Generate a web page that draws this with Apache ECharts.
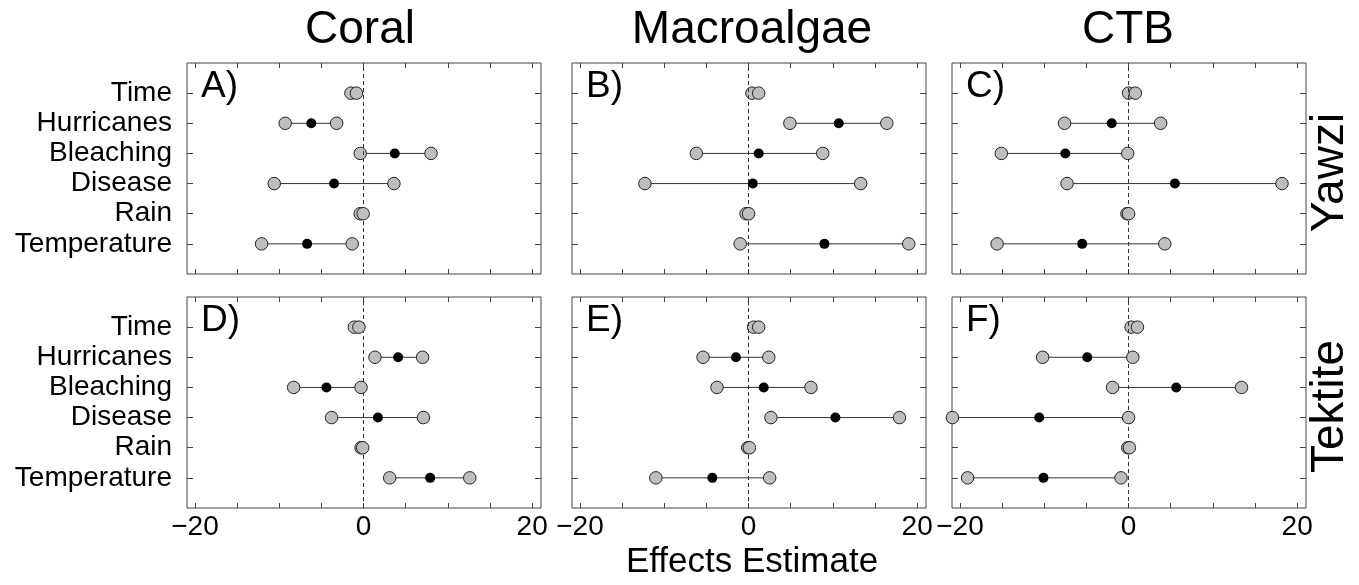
<!DOCTYPE html>
<html>
<head>
<meta charset="utf-8">
<script src="https://cdn.jsdelivr.net/npm/echarts@6/dist/echarts.min.js"></script>
<style>
html,body{margin:0;padding:0;background:#fff;}
#chart{width:1359px;height:585px;}
</style>
</head>
<body>
<div id="chart"></div>
<script>
// ---------- data ----------
const categories = ['Time', 'Hurricanes', 'Bleaching', 'Disease', 'Rain', 'Temperature'];
const columnTitles = ['Coral', 'Macroalgae', 'CTB'];
const rowTitles = ['Yawzi', 'Tektite'];
const panelLetters = ['A)', 'B)', 'C)', 'D)', 'E)', 'F)'];
const xTickValues = [-20, -15, -10, -5, 0, 5, 10, 15, 20];
const xLabelValues = [-20, 0, 20];
const xAxisTitle = 'Effects Estimate';

// A) Coral, Yawzi
const A_low  = [-1.5, -9.3, -0.4, -10.6, -0.4, -12.1];
const A_est  = [-1.2, -6.2, 3.7, -3.5, -0.2, -6.7];
const A_high = [-0.85, -3.2, 8.0, 3.6, -0.05, -1.35];
// B) Macroalgae, Yawzi
const B_low  = [0.4, 4.9, -6.2, -12.3, -0.3, -1.0];
const B_est  = [0.8, 10.7, 1.2, 0.5, -0.15, 9.0];
const B_high = [1.2, 16.4, 8.8, 13.3, 0.0, 19.0];
// C) CTB, Yawzi
const C_low  = [0.0, -7.6, -15.1, -7.3, -0.2, -15.6];
const C_est  = [0.4, -2.0, -7.5, 5.5, -0.1, -5.5];
const C_high = [0.8, 3.8, -0.1, 18.2, 0.0, 4.3];
// D) Coral, Tektite
const D_low  = [-1.1, 1.35, -8.3, -3.8, -0.3, 3.1];
const D_est  = [-0.8, 4.1, -4.4, 1.7, -0.2, 7.9];
const D_high = [-0.55, 7.0, -0.3, 7.1, -0.1, 12.6];
// E) Macroalgae, Tektite
const E_low  = [0.6, -5.4, -3.75, 2.65, -0.1, -11.0];
const E_est  = [0.9, -1.5, 1.8, 10.3, 0.0, -4.3];
const E_high = [1.2, 2.4, 7.4, 17.9, 0.1, 2.5];
// F) CTB, Tektite
const F_low  = [0.3, -10.2, -1.9, -20.9, -0.1, -19.1];
const F_est  = [0.7, -4.9, 5.65, -10.6, 0.0, -10.1];
const F_high = [1.05, 0.5, 13.4, 0.0, 0.1, -0.9];

const panels = [
  [A_low, A_est, A_high], [B_low, B_est, B_high], [C_low, C_est, C_high],
  [D_low, D_est, D_high], [E_low, E_est, E_high], [F_low, F_est, F_high]
];

// ---------- layout ----------
const FONT = '"Liberation Sans", Arial, Helvetica, sans-serif';
const XMIN = -20.95, XMAX = 21.05;
const YMIN = 0, YMAX = categories.length + 1;
const colLeft = [187, 572, 952];
const rowTop = [63, 297];
const PW = 354, PH = 211;
const titleX = [360, 752, 1128];

const yTickValues = categories.map((c, i) => categories.length - i);
const yOf = i => categories.length - i;
const fmtX = v => (v < 0 ? '\u2212' + Math.abs(v) : String(v));

const grids = [], xAxes = [], yAxes = [], series = [], graphics = [];

for (let r = 0; r < 2; r++) {
  for (let c = 0; c < 3; c++) {
    const idx = r * 3 + c;
    grids.push({
      left: colLeft[c], top: rowTop[r], width: PW, height: PH,
      show: true, borderColor: '#444', borderWidth: 1, backgroundColor: 'transparent'
    });
    const tickStyle = { color: '#444', width: 1 };
    ['bottom', 'top'].forEach(pos => {
      xAxes.push({
        gridIndex: idx, type: 'value', position: pos, min: XMIN, max: XMAX,
        axisLine: { show: false, onZero: false },
        splitLine: { show: false },
        axisTick: { show: true, inside: true, length: 5, customValues: xTickValues, lineStyle: tickStyle },
        axisLabel: {
          show: pos === 'bottom' && r === 1, customValues: xLabelValues, formatter: fmtX,
          fontSize: 28, fontFamily: FONT, color: '#000', margin: 5
        }
      });
    });
    ['left', 'right'].forEach(pos => {
      yAxes.push({
        gridIndex: idx, type: 'value', position: pos, min: YMIN, max: YMAX,
        axisLine: { show: false, onZero: false },
        splitLine: { show: false },
        axisTick: { show: true, inside: true, length: 6, customValues: yTickValues, lineStyle: tickStyle },
        axisLabel: {
          show: pos === 'left' && c === 0, customValues: yTickValues,
          formatter: v => categories[categories.length - v] || '',
          fontSize: 28, fontFamily: FONT, color: '#000', margin: 15
        }
      });
    });
    const [low, est, high] = panels[idx];
    const xi = 2 * idx, yi = 2 * idx;
    // zero reference line
    series.push({
      type: 'scatter', xAxisIndex: xi, yAxisIndex: yi, data: [], z: 1, silent: true,
      markLine: {
        silent: true, symbol: 'none', animation: false,
        label: { show: false },
        lineStyle: { type: [4, 3], color: '#333', width: 1 },
        data: [{ xAxis: 0 }]
      }
    });
    // interval lines
    series.push({
      type: 'custom', xAxisIndex: xi, yAxisIndex: yi, z: 2, silent: true,
      data: low.map((lo, i) => [lo, high[i], yOf(i)]),
      encode: { x: [0, 1], y: 2 },
      renderItem: (params, api) => {
        const p1 = api.coord([api.value(0), api.value(2)]);
        const p2 = api.coord([api.value(1), api.value(2)]);
        return {
          type: 'line',
          shape: { x1: p1[0], y1: p1[1], x2: p2[0], y2: p2[1] },
          style: { stroke: '#333', lineWidth: 1 }
        };
      }
    });
    // estimates
    series.push({
      type: 'scatter', xAxisIndex: xi, yAxisIndex: yi, z: 3, clip: false, silent: true,
      symbol: 'circle', symbolSize: 10,
      itemStyle: { color: '#000', opacity: 1 },
      data: est.map((v, i) => [v, yOf(i)])
    });
    // lower / upper bounds
    [low, high].forEach((arr, k) => {
      series.push({
        type: 'scatter', xAxisIndex: xi, yAxisIndex: yi, z: 4 + k, clip: false, silent: true,
        symbol: 'circle', symbolSize: 12.5,
        itemStyle: { color: '#bebebe', borderColor: '#222', borderWidth: 1, opacity: 1 },
        data: arr.map((v, i) => [v, yOf(i)])
      });
    });
    // panel letter
    graphics.push({
      type: 'text', x: colLeft[c] + 14, y: rowTop[r] + 24, z: 10,
      style: { text: panelLetters[idx], fontSize: 37, fontFamily: FONT, fill: '#000',
               align: 'left', verticalAlign: 'middle', textAlign: 'left', textVerticalAlign: 'middle' }
    });
  }
}

columnTitles.forEach((t, c) => {
  graphics.push({
    type: 'text', x: titleX[c], y: 30, z: 10,
    style: { text: t, fontSize: 46, fontFamily: FONT, fill: '#000',
             align: 'center', verticalAlign: 'middle', textAlign: 'center', textVerticalAlign: 'middle' }
  });
});
rowTitles.forEach((t, r) => {
  graphics.push({
    type: 'text', x: 1330, y: rowTop[r] + PH / 2 + 4, rotation: Math.PI / 2, z: 10,
    style: { text: t, fontSize: 46, fontFamily: FONT, fill: '#000',
             align: 'center', verticalAlign: 'middle', textAlign: 'center', textVerticalAlign: 'middle' }
  });
});
graphics.push({
  type: 'text', x: 752, y: 562, z: 10,
  style: { text: xAxisTitle, fontSize: 35, fontFamily: FONT, fill: '#000',
           align: 'center', verticalAlign: 'middle', textAlign: 'center', textVerticalAlign: 'middle' }
});

const chart = echarts.init(document.getElementById('chart'), null, { renderer: 'canvas' });
chart.setOption({
  backgroundColor: '#fff',
  animation: false,
  grid: grids,
  xAxis: xAxes,
  yAxis: yAxes,
  series: series,
  graphic: graphics
});
</script>
</body>
</html>
